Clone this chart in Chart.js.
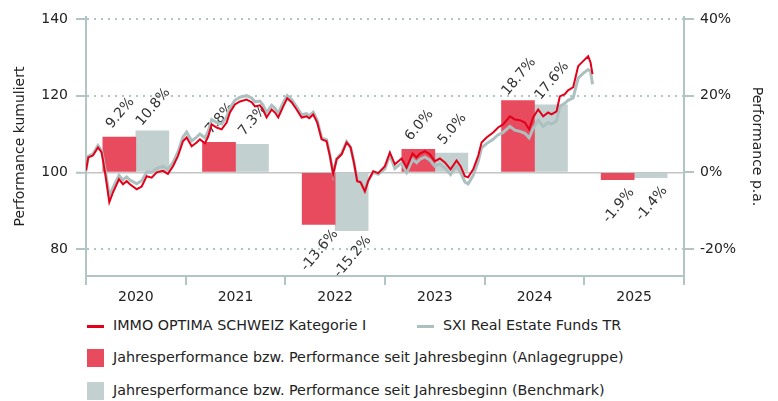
<!DOCTYPE html>
<html>
<head>
<meta charset="utf-8">
<script src="https://cdn.jsdelivr.net/npm/chart.js@4.4.1/dist/chart.umd.min.js"></script>
<style>
  body { margin: 0; background: #fff; font-family: "DejaVu Sans", sans-serif; color: #222; }
  #wrap { position: relative; width: 778px; height: 401px; }
  #chart { position: absolute; left: 0; top: 0; }
  .leg { position: absolute; font-size: 14.3px; white-space: nowrap; line-height: 18px; }
  .mk { position: absolute; }
</style>
</head>
<body>
<div id="wrap">
  <canvas id="chart" width="778" height="312"></canvas>
  <div id="legend"></div>
</div>
<script>
// Jahre und Jahresperformance (%)
const years = ['2020', '2021', '2022', '2023', '2024', '2025'];
const fundYearly = [9.2, 7.8, -13.6, 6.0, 18.7, -1.9];
const benchYearly = [10.8, 7.3, -15.2, 5.0, 17.6, -1.4];

// Kumulierte Performance (Dezimaljahr -> Wert)
const dates = [
  2020.000, 2020.023, 2020.070, 2020.120, 2020.157, 2020.191, 2020.234, 2020.271, 2020.331, 2020.371,
  2020.408, 2020.441, 2020.509, 2020.559, 2020.609, 2020.659, 2020.709, 2020.772, 2020.822, 2020.873,
  2020.923, 2020.973, 2021.010, 2021.060, 2021.110, 2021.143, 2021.194, 2021.227, 2021.261, 2021.311,
  2021.361, 2021.411, 2021.444, 2021.494, 2021.545, 2021.612, 2021.662, 2021.695, 2021.745, 2021.775,
  2021.812, 2021.863, 2021.896, 2021.929, 2021.979, 2022.019, 2022.063, 2022.113, 2022.164, 2022.214,
  2022.240, 2022.280, 2022.320, 2022.364, 2022.414, 2022.447, 2022.480, 2022.515, 2022.565, 2022.615,
  2022.655, 2022.688, 2022.721, 2022.755, 2022.798, 2022.831, 2022.882, 2022.932, 2022.999, 2023.049,
  2023.099, 2023.166, 2023.217, 2023.277, 2023.317, 2023.350, 2023.400, 2023.450, 2023.500, 2023.551,
  2023.601, 2023.658, 2023.718, 2023.758, 2023.801, 2023.834, 2023.885, 2023.935, 2023.969, 2024.019,
  2024.085, 2024.135, 2024.185, 2024.253, 2024.303, 2024.353, 2024.403, 2024.446, 2024.486, 2024.537,
  2024.587, 2024.637, 2024.671, 2024.721, 2024.754, 2024.804, 2024.837, 2024.888, 2024.938, 2024.988,
  2025.038, 2025.062, 2025.082
];
const fundValues = [
  100.5, 103.9, 104.4, 106.5, 105.2, 100.0, 92.2, 94.8, 98.2, 96.9,
  97.7, 96.9, 95.6, 96.3, 99.0, 98.6, 100.0, 100.4, 99.6, 101.6,
  104.3, 108.1, 109.1, 106.8, 107.8, 108.6, 107.6, 109.4, 112.5, 111.7,
  111.2, 113.0, 115.6, 117.7, 118.5, 119.0, 118.3, 117.2, 117.5, 116.4,
  114.3, 116.4, 115.6, 114.3, 117.2, 119.3, 118.3, 116.4, 114.3, 114.6,
  114.1, 115.1, 113.0, 108.6, 108.1, 104.3, 99.5, 103.4, 104.7, 107.8,
  106.5, 102.6, 97.7, 97.4, 95.0, 97.7, 100.3, 99.8, 101.6, 105.2,
  102.1, 103.6, 101.2, 104.9, 103.9, 104.9, 105.5, 104.7, 102.9, 103.6,
  102.6, 100.8, 103.1, 101.6, 99.0, 98.7, 100.8, 104.3, 107.8, 109.1,
  110.4, 111.7, 112.5, 114.6, 113.8, 113.6, 113.0, 111.2, 114.3, 116.4,
  114.6, 115.6, 115.1, 115.9, 119.8, 120.4, 121.4, 122.2, 127.7, 129.0,
  130.3, 128.7, 125.6
];
const benchValues = [
  100.5, 104.2, 104.8, 107.0, 105.6, 100.8, 93.8, 96.0, 99.2, 98.0,
  98.8, 98.0, 97.0, 97.8, 100.0, 100.0, 101.0, 101.6, 100.8, 102.6,
  105.3, 109.2, 110.5, 108.2, 109.2, 110.0, 109.0, 110.8, 113.8, 113.0,
  112.6, 114.4, 116.8, 118.8, 119.6, 120.0, 119.4, 118.4, 118.6, 117.6,
  115.6, 117.5, 116.7, 115.4, 118.2, 120.0, 119.0, 117.1, 115.0, 115.3,
  114.8, 115.7, 113.6, 109.0, 108.5, 104.6, 99.6, 103.6, 105.0, 108.0,
  106.6, 102.6, 98.0, 97.5, 95.5, 97.8, 100.0, 99.5, 100.9, 104.5,
  101.0, 102.4, 100.0, 103.4, 102.5, 103.4, 104.0, 103.2, 101.6, 102.2,
  101.1, 99.4, 101.8, 100.0, 97.5, 97.0, 99.2, 102.8, 106.4, 107.5,
  108.6, 109.8, 110.4, 112.0, 111.0, 110.7, 110.2, 109.0, 111.4, 113.6,
  112.0, 113.0, 112.6, 113.4, 117.2, 118.0, 118.8, 119.4, 124.6, 125.8,
  126.8, 126.4, 123.0
];

const leftTicks = [80, 100, 120, 140];
const rightTicks = [-20, 0, 20, 40];

const RED = '#e3001b';
const RED_BAR = '#e84b5e';
const GREY = '#adc0c0';
const GREY_BAR = '#c3d0d0';
const AXIS = '#b2c5c5';
const FONT = '"DejaVu Sans", sans-serif';

// Achsenbereiche so gewählt, dass 100 und 0% auf gleicher Höhe liegen
const yMin = 72.96, yMax = 140.52;

const toPoints = (vals) => vals.map((v, i) => ({ x: dates[i], y: v }));

// Prozentwerte schräg über/unter die Balken schreiben
const barLabels = {
  id: 'barLabels',
  afterDatasetDraw(chart, args) {
    const ds = chart.data.datasets[args.index];
    if (ds.type === 'line') return;
    const ctx = chart.ctx;
    args.meta.data.forEach((bar, j) => {
      const v = ds.data[j];
      const y = v >= 0 ? bar.y - 24 : bar.y + 26;
      ctx.save();
      ctx.translate(bar.x + 1, y);
      ctx.rotate(-50 * Math.PI / 180);
      ctx.font = '14px ' + FONT;
      ctx.fillStyle = '#333';
      ctx.textAlign = 'center';
      ctx.textBaseline = 'middle';
      ctx.fillText(v.toFixed(1) + '%', 0, 0);
      ctx.restore();
    });
  }
};

const chart = new Chart(document.getElementById('chart'), {
  type: 'bar',
  data: {
    labels: years,
    datasets: [
      { type: 'line', label: 'IMMO OPTIMA SCHWEIZ Kategorie I', data: toPoints(fundValues),
        xAxisID: 'xt', yAxisID: 'y', borderColor: RED, borderWidth: 2, pointRadius: 0, tension: 0, order: 0 },
      { type: 'line', label: 'SXI Real Estate Funds TR', data: toPoints(benchValues),
        xAxisID: 'xt', yAxisID: 'y', borderColor: GREY, borderWidth: 3, pointRadius: 0, tension: 0, order: 1 },
      { label: 'Jahresperformance bzw. Performance seit Jahresbeginn (Anlagegruppe)', data: fundYearly,
        xAxisID: 'x', yAxisID: 'y2', backgroundColor: RED_BAR, barThickness: 33, order: 2 },
      { label: 'Jahresperformance bzw. Performance seit Jahresbeginn (Benchmark)', data: benchYearly,
        xAxisID: 'x', yAxisID: 'y2', backgroundColor: GREY_BAR, barThickness: 33, order: 3 }
    ]
  },
  options: {
    responsive: false,
    animation: false,
    layout: { padding: { top: 17, left: 0, right: 0, bottom: 0 } },
    plugins: { legend: { display: false }, tooltip: { enabled: false } },
    scales: {
      x: {
        type: 'category', position: 'bottom', offset: true,
        grid: { offset: true, drawOnChartArea: false, color: AXIS, tickLength: 9, lineWidth: 2 },
        border: { color: AXIS, width: 2 },
        ticks: { color: '#222', font: { family: FONT, size: 14 }, padding: 4, maxRotation: 0 },
        afterFit: (s) => { s.height = 36; }
      },
      // Zeitachse fuer die Linien, deckt genau 2020 bis 2026 ab
      xt: { type: 'linear', position: 'bottom', min: 2020, max: 2026, offset: false, grid: { offset: false }, display: false },
      y: {
        position: 'left', min: yMin, max: yMax,
        afterBuildTicks: (s) => { s.ticks = leftTicks.map(v => ({ value: v })); },
        grid: {
          color: (c) => c.tick && c.tick.value === 100 ? '#c4c4c4' : AXIS,
          lineWidth: (c) => c.tick && c.tick.value === 100 ? 1.5 : 2,
          tickColor: AXIS, tickLength: 10, tickWidth: 2, tickBorderDash: []
        },
        border: { color: AXIS, width: 2, dash: (c) => c.tick && c.tick.value === 100 ? [] : [2, 5] },
        ticks: { color: '#222', font: { family: FONT, size: 14 }, padding: 8 },
        title: { display: true, text: 'Performance kumuliert', color: '#222', font: { family: FONT, size: 14 }, padding: { top: 12, bottom: 0 } },
        afterFit: (s) => { s.width = 86; }
      },
      y2: {
        position: 'right', min: yMin - 100, max: yMax - 100,
        afterBuildTicks: (s) => { s.ticks = rightTicks.map(v => ({ value: v })); },
        grid: { drawOnChartArea: false, color: AXIS, tickLength: 10, lineWidth: 2 },
        border: { color: AXIS, width: 2 },
        ticks: { color: '#222', font: { family: FONT, size: 14 }, padding: 6, callback: (v) => v + '%' },
        title: { display: true, text: 'Performance p.a.', color: '#222', font: { family: FONT, size: 14 }, padding: { top: 13, bottom: 0 } },
        afterFit: (s) => { s.width = 94; }
      }
    }
  },
  plugins: [barLabels]
});

// Legende als HTML unter dem Diagramm
const legend = document.getElementById('legend');
const ds = chart.data.datasets;
const items = [
  { d: ds[0], x: 87, y: 326, line: true },
  { d: ds[1], x: 417, y: 326, line: true },
  { d: ds[2], x: 87, y: 358, line: false },
  { d: ds[3], x: 87, y: 391, line: false }
];
items.forEach(it => {
  const mk = document.createElement('div');
  mk.className = 'mk';
  const color = it.line ? it.d.borderColor : it.d.backgroundColor;
  if (it.line) {
    mk.style.cssText = `left:${it.x}px;top:${it.y - 1.5}px;width:17px;height:3px;background:${color}`;
  } else {
    mk.style.cssText = `left:${it.x}px;top:${it.y - 9}px;width:17px;height:18px;background:${color}`;
  }
  legend.appendChild(mk);
  const t = document.createElement('div');
  t.className = 'leg';
  t.style.left = (it.x + 26) + 'px';
  t.style.top = (it.y - 10) + 'px';
  t.textContent = it.d.label;
  legend.appendChild(t);
});
</script>
</body>
</html>
